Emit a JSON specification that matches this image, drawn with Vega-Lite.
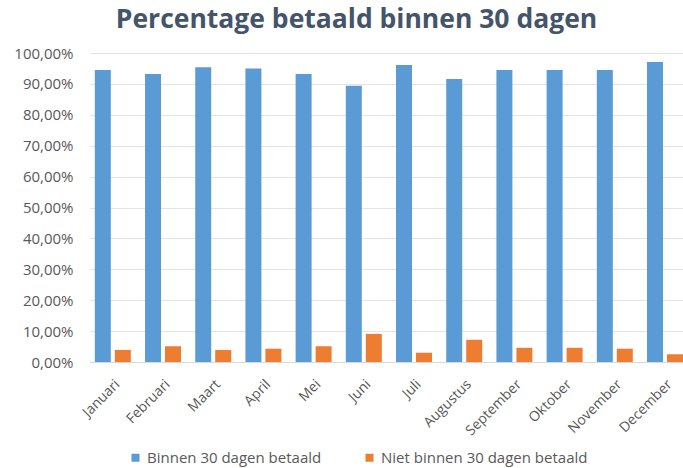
{
  "$schema": "https://vega.github.io/schema/vega-lite/v6.json",
  "width": 593,
  "height": 309,
  "autosize": {"type": "none"},
  "padding": {"left": 90, "top": 53, "right": 0, "bottom": 106},
  "background": "white",
  "title": {
    "text": "Percentage betaald binnen 30 dagen",
    "font": "Open Sans",
    "fontSize": 26.5,
    "fontWeight": "bold",
    "color": "#44546A",
    "offset": 13,
    "dx": -30
  },
  "data": {
    "values": [
      {"maand": "Januari", "reeks": "Binnen 30 dagen betaald", "waarde": 0.945},
      {"maand": "Januari", "reeks": "Niet binnen 30 dagen betaald", "waarde": 0.039},
      {"maand": "Februari", "reeks": "Binnen 30 dagen betaald", "waarde": 0.932},
      {"maand": "Februari", "reeks": "Niet binnen 30 dagen betaald", "waarde": 0.051},
      {"maand": "Maart", "reeks": "Binnen 30 dagen betaald", "waarde": 0.954},
      {"maand": "Maart", "reeks": "Niet binnen 30 dagen betaald", "waarde": 0.039},
      {"maand": "April", "reeks": "Binnen 30 dagen betaald", "waarde": 0.950},
      {"maand": "April", "reeks": "Niet binnen 30 dagen betaald", "waarde": 0.043},
      {"maand": "Mei", "reeks": "Binnen 30 dagen betaald", "waarde": 0.932},
      {"maand": "Mei", "reeks": "Niet binnen 30 dagen betaald", "waarde": 0.051},
      {"maand": "Juni", "reeks": "Binnen 30 dagen betaald", "waarde": 0.894},
      {"maand": "Juni", "reeks": "Niet binnen 30 dagen betaald", "waarde": 0.091},
      {"maand": "Juli", "reeks": "Binnen 30 dagen betaald", "waarde": 0.961},
      {"maand": "Juli", "reeks": "Niet binnen 30 dagen betaald", "waarde": 0.030},
      {"maand": "Augustus", "reeks": "Binnen 30 dagen betaald", "waarde": 0.916},
      {"maand": "Augustus", "reeks": "Niet binnen 30 dagen betaald", "waarde": 0.072},
      {"maand": "September", "reeks": "Binnen 30 dagen betaald", "waarde": 0.945},
      {"maand": "September", "reeks": "Niet binnen 30 dagen betaald", "waarde": 0.046},
      {"maand": "Oktober", "reeks": "Binnen 30 dagen betaald", "waarde": 0.945},
      {"maand": "Oktober", "reeks": "Niet binnen 30 dagen betaald", "waarde": 0.046},
      {"maand": "November", "reeks": "Binnen 30 dagen betaald", "waarde": 0.945},
      {"maand": "November", "reeks": "Niet binnen 30 dagen betaald", "waarde": 0.043},
      {"maand": "December", "reeks": "Binnen 30 dagen betaald", "waarde": 0.971},
      {"maand": "December", "reeks": "Niet binnen 30 dagen betaald", "waarde": 0.025}
    ]
  },
  "mark": {"type": "bar"},
  "encoding": {
    "x": {
      "field": "maand",
      "type": "nominal",
      "sort": ["Januari", "Februari", "Maart", "April", "Mei", "Juni", "Juli", "Augustus", "September", "Oktober", "November", "December"],
      "scale": {"paddingInner": 0.283, "paddingOuter": 0.048, "align": 1},
      "axis": {
        "title": null,
        "labelAngle": -45,
        "labelAlign": "right",
        "labelBaseline": "top",
        "labelFont": "Open Sans",
        "labelFontSize": 14,
        "labelColor": "#595959",
        "labelPadding": 15,
        "ticks": false,
        "domainColor": "#D9D9D9",
        "grid": false
      }
    },
    "xOffset": {
      "field": "reeks",
      "sort": ["Binnen 30 dagen betaald", "Niet binnen 30 dagen betaald"],
      "scale": {"paddingInner": 0.2}
    },
    "y": {
      "field": "waarde",
      "type": "quantitative",
      "scale": {"domain": [0, 1]},
      "axis": {
        "title": null,
        "values": [0, 0.1, 0.2, 0.3, 0.4, 0.5, 0.6, 0.7, 0.8, 0.9, 1],
        "labelExpr": "replace(format(datum.value, '.2%'), '.', ',')",
        "labelFont": "Open Sans",
        "labelFontSize": 15,
        "labelColor": "#595959",
        "labelPadding": 17,
        "ticks": false,
        "domain": false,
        "gridColor": "#E4E4E4"
      }
    },
    "color": {
      "field": "reeks",
      "type": "nominal",
      "sort": ["Binnen 30 dagen betaald", "Niet binnen 30 dagen betaald"],
      "scale": {"domain": ["Binnen 30 dagen betaald", "Niet binnen 30 dagen betaald"], "range": ["#5B9BD5", "#ED7D31"]},
      "legend": {
        "title": null,
        "orient": "none",
        "direction": "horizontal",
        "legendX": 38,
        "legendY": 397,
        "symbolType": "square",
        "symbolSize": 64,
        "labelFont": "Open Sans",
        "labelFontSize": 15,
        "labelLimit": 0,
        "labelColor": "#595959",
        "columnPadding": 40,
        "labelOffset": 4
      }
    }
  },
  "config": {"view": {"stroke": null}}
}
